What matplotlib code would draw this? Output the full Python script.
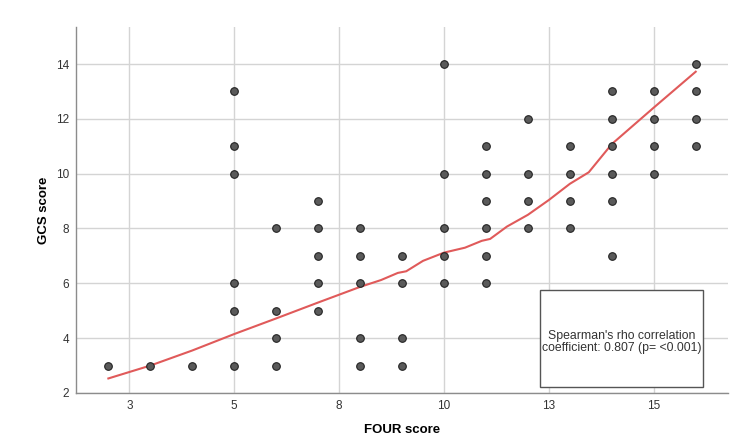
import numpy as np
import matplotlib
matplotlib.use("Agg")
import matplotlib.pyplot as plt
from matplotlib.patches import Rectangle

plt.rcParams['font.family'] = ['Liberation Sans', 'DejaVu Sans']

# scatter data (FOUR score vs GCS score)
four_score = [2, 3, 4,
              5, 5, 5, 5, 5, 5,
              6, 6, 6, 6,
              7, 7, 7, 7, 7,
              8, 8, 8, 8, 8,
              9, 9, 9, 9,
              10, 10, 10, 10, 10,
              11, 11, 11, 11, 11, 11,
              12, 12, 12, 12,
              13, 13, 13, 13,
              14, 14, 14, 14, 14, 14,
              15, 15, 15, 15,
              16, 16, 16, 16]
gcs_score = [3, 3, 3,
             13, 11, 10, 6, 5, 3,
             8, 5, 4, 3,
             9, 8, 7, 6, 5,
             8, 7, 6, 4, 3,
             7, 6, 4, 3,
             14, 10, 8, 7, 6,
             11, 10, 9, 8, 7, 6,
             12, 10, 9, 8,
             11, 10, 9, 8,
             13, 12, 11, 10, 9, 7,
             13, 12, 11, 10,
             14, 13, 12, 11]

# fitted (loess) line
fit_x = [2, 3, 4, 5, 6, 7, 8, 8.5, 8.9, 9.1, 9.5, 10, 10.5, 10.9, 11.1, 11.5,
         12, 12.5, 13, 13.45, 14, 15, 16]
fit_y = [2.53, 3.0, 3.55, 4.15, 4.72, 5.3, 5.87, 6.12, 6.38, 6.44, 6.82, 7.12,
         7.3, 7.55, 7.62, 8.07, 8.5, 9.04, 9.63, 10.05, 11.08, 12.41, 13.72]

xtick_pos = [2.5, 5, 7.5, 10, 12.5, 15]
xtick_lab = ["3", "5", "8", "10", "13", "15"]
ytick_pos = [2, 4, 6, 8, 10, 12, 14]

stat_text = "Spearman's rho correlation\ncoefficient: 0.807 (p= <0.001)"

fig = plt.figure(figsize=(7.5, 4.45), dpi=100)
ax = fig.add_axes([0.1013, 0.1169, 0.8694, 0.8224])

ax.plot(fit_x, fit_y, color='#e05a5a', lw=1.5, zorder=2)
ax.scatter(four_score, gcs_score, s=30, color='#5a5a5a',
           edgecolors='#222222', linewidths=0.8, zorder=3)

ax.set_xlim(1.228, 16.77)
ax.set_ylim(2, 15.35)
ax.set_xticks(xtick_pos)
ax.set_xticklabels(xtick_lab)
ax.set_yticks(ytick_pos)
ax.tick_params(length=0, labelsize=8.5, colors='#333333')
ax.tick_params(axis='x', pad=5)
ax.tick_params(axis='y', pad=5)
ax.grid(True, color='#d4d4d4', lw=1)
ax.set_axisbelow(True)

for s in ['top', 'right']:
    ax.spines[s].set_visible(False)
for s in ['left', 'bottom']:
    ax.spines[s].set_color('#8c8c8c')
    ax.spines[s].set_linewidth(1)

ax.set_xlabel("FOUR score", fontsize=9.5, fontweight='bold', labelpad=9)
ax.set_ylabel("GCS score", fontsize=9.5, fontweight='bold', labelpad=4)

# annotation box
ax.add_patch(Rectangle((12.30, 2.22), 3.87, 3.53, fill=True, facecolor='white',
                       edgecolor='#555555', lw=1, zorder=4))
ax.text(14.235, 3.85, stat_text, ha='center', va='center', fontsize=8.8,
        color='#333333', zorder=5, linespacing=1.0)

fig.savefig("out.png", dpi=100)
